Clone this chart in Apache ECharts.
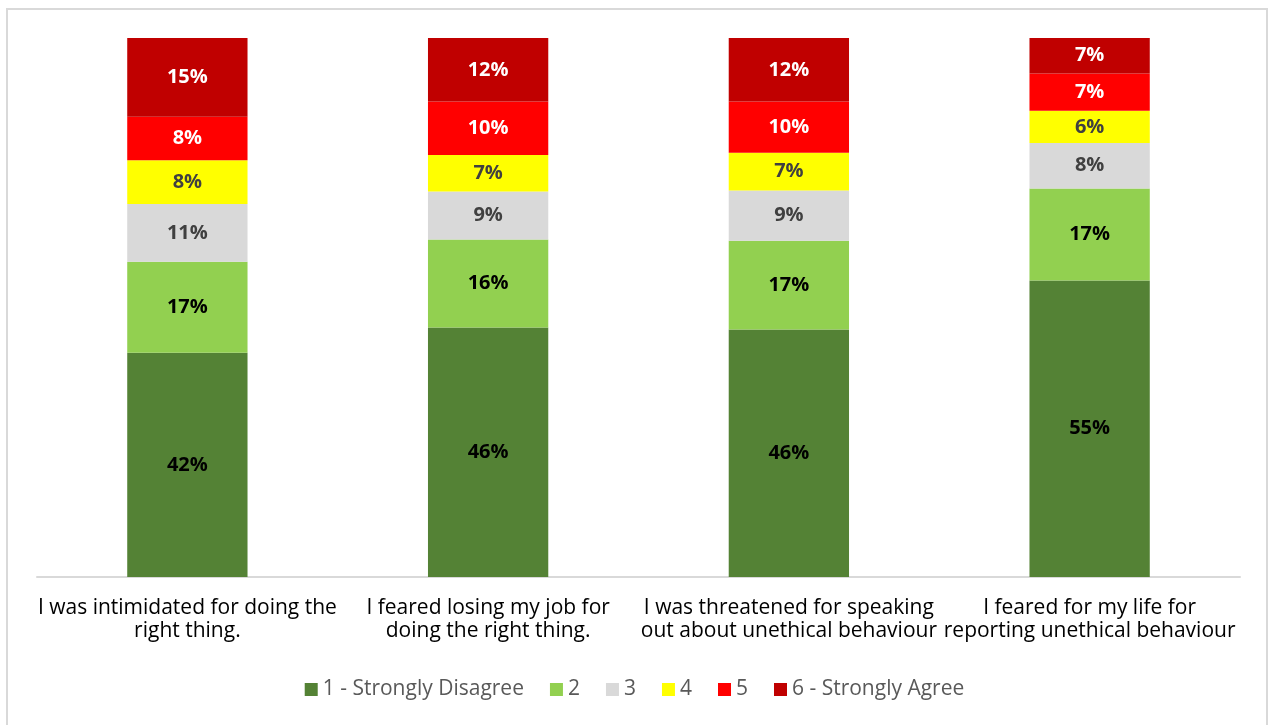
<!DOCTYPE html>
<html>
<head>
<meta charset="utf-8">
<script src="https://cdn.jsdelivr.net/npm/echarts@6/dist/echarts.min.js"></script>
<style>
  html, body { margin: 0; padding: 0; background: #fff; }
  #chart { width: 1269px; height: 725px; }
</style>
</head>
<body>
<div id="chart"></div>
<script>
const categories = [
  "I was intimidated for doing the\nright thing.",
  "I feared losing my job for\ndoing the right thing.",
  "I was threatened for speaking\nout about unethical behaviour",
  "I feared for my life for\nreporting unethical behaviour"
];
const seriesNames = ["1 - Strongly Disagree", "2", "3", "4", "5", "6 - Strongly Agree"];
// shares in percent
const stronglyDisagree = [41.6, 46.3, 45.9, 55.0];
const level2 = [16.9, 16.3, 16.5, 17.1];
const level3 = [10.7, 8.9, 9.3, 8.4];
const level4 = [8.1, 6.8, 7.0, 6.0];
const level5 = [8.1, 9.9, 9.5, 6.9];
const stronglyAgree = [14.6, 11.8, 11.8, 6.6];

const colors = ["#548235", "#92d050", "#d9d9d9", "#ffff00", "#ff0000", "#c00000"];
const labelColors = ["#000000", "#000000", "#404040", "#404040", "#ffffff", "#ffffff"];
const values = [stronglyDisagree, level2, level3, level4, level5, stronglyAgree];

const chart = echarts.init(document.getElementById("chart"));

const series = seriesNames.map((name, i) => ({
  name: name,
  type: "bar",
  stack: "total",
  barWidth: "40%",
  data: values[i],
  itemStyle: { color: colors[i] },
  label: {
    show: true,
    position: "inside",
    formatter: p => Math.round(p.value) + "%",
    color: labelColors[i],
    fontFamily: "Open Sans",
    fontWeight: "bold",
    fontSize: 20
  }
}));

chart.setOption({
  animation: false,
  textStyle: { fontFamily: "Open Sans" },
  graphic: [{
    type: "rect",
    shape: { x: 7, y: 9, width: 1260, height: 740 },
    style: { fill: "none", stroke: "#d9d9d9", lineWidth: 2 },
    silent: true
  }],
  grid: { left: 37, right: 29, top: 38, bottom: 148 },
  legend: {
    data: seriesNames,
    bottom: 20,
    left: "center",
    itemWidth: 13,
    itemHeight: 13,
    itemGap: 26,
    icon: "rect",
    textStyle: { color: "#595959", fontSize: 21, fontFamily: "Open Sans" }
  },
  xAxis: {
    type: "category",
    data: categories,
    axisLine: { lineStyle: { color: "#d9d9d9", width: 2 } },
    axisTick: { show: false },
    axisLabel: {
      color: "#000000",
      fontSize: 21,
      lineHeight: 23,
      margin: 20,
      interval: 0,
      fontFamily: "Open Sans"
    }
  },
  yAxis: {
    type: "value",
    min: 0,
    max: 100,
    show: false
  },
  series: series
});
</script>
</body>
</html>
